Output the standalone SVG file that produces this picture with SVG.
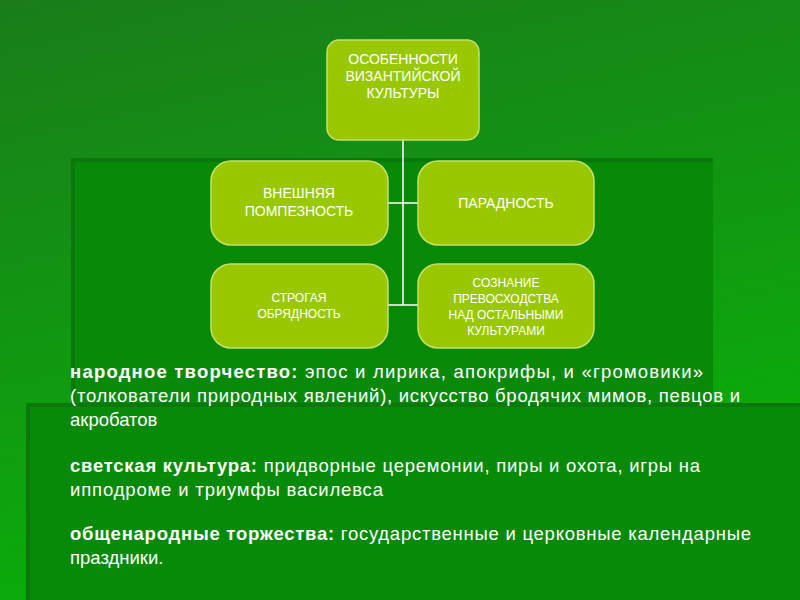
<svg xmlns="http://www.w3.org/2000/svg" width="800" height="600" viewBox="0 0 800 600">
<defs>
<linearGradient id="bg" x1="0" y1="0" x2="0.3" y2="1">
<stop offset="0" stop-color="#1a7d1a"/><stop offset="1" stop-color="#0aae0a"/>
</linearGradient>
<style>
.n rect{fill:#99c800;stroke:#c4e070;stroke-width:1.5}
.n text{fill:#fff;font-family:"Liberation Sans",Arial,sans-serif;text-anchor:middle}
.c{stroke:#fff;stroke-width:1.5;fill:none}
.t{font-family:"Liberation Sans",Arial,sans-serif;font-size:18.5px;fill:#fff}
.b{font-weight:bold}
</style>
</defs>
<rect width="800" height="600" fill="url(#bg)"/>
<rect x="73" y="160" width="640" height="250" fill="#088a08"/>
<path d="M73 410V160H713" fill="none" stroke="#0a780a" stroke-width="4"/>
<rect x="28" y="405" width="772" height="195" fill="#078a07"/>
<path d="M28 600V405H800" fill="none" stroke="#0a780a" stroke-width="4"/>
<g id="connectors">
<path class="c" d="M403 140V305M388 203H418M388 305H418"/>
</g>
<g id="n0" class="n"><rect x="327" y="40" width="152" height="100" rx="12"/>
<text font-size="14"><tspan x="403" y="64">ОСОБЕННОСТИ</tspan><tspan x="403" y="81">ВИЗАНТИЙСКОЙ</tspan><tspan x="403" y="98">КУЛЬТУРЫ</tspan></text></g>
<g id="n1" class="n"><rect x="211" y="161" width="177" height="84" rx="20"/>
<text font-size="14"><tspan x="299" y="198">ВНЕШНЯЯ</tspan><tspan x="299" y="216">ПОМПЕЗНОСТЬ</tspan></text></g>
<g id="n2" class="n"><rect x="418" y="161" width="176" height="84" rx="20"/>
<text font-size="14" x="506" y="208">ПАРАДНОСТЬ</text></g>
<g id="n3" class="n"><rect x="211" y="264" width="177" height="84" rx="20"/>
<text font-size="12"><tspan x="299" y="302">СТРОГАЯ</tspan><tspan x="299" y="318">ОБРЯДНОСТЬ</tspan></text></g>
<g id="n4" class="n"><rect x="418" y="264" width="176" height="84" rx="20"/>
<text font-size="12"><tspan x="506" y="287">СОЗНАНИЕ</tspan><tspan x="506" y="303">ПРЕВОСХОДСТВА</tspan><tspan x="506" y="319">НАД ОСТАЛЬНЫМИ</tspan><tspan x="506" y="335">КУЛЬТУРАМИ</tspan></text></g>
<g id="text" class="t">
<text x="70" y="378" textLength="633" lengthAdjust="spacing"><tspan class="b">народное творчество:</tspan> эпос и лирика, апокрифы, и «громовики»</text>
<text x="70" y="402" textLength="670" lengthAdjust="spacing">(толкователи природных явлений), искусство бродячих мимов, певцов и</text>
<text x="70" y="426">акробатов</text>
<text x="70" y="472" textLength="630" lengthAdjust="spacing"><tspan class="b">светская культура:</tspan> придворные церемонии, пиры и охота, игры на</text>
<text x="70" y="496" textLength="313" lengthAdjust="spacing">ипподроме и триумфы василевса</text>
<text x="70" y="540" textLength="681" lengthAdjust="spacing"><tspan class="b">общенародные торжества:</tspan> государственные и церковные календарные</text>
<text x="70" y="564">праздники.</text>
</g>
</svg>
